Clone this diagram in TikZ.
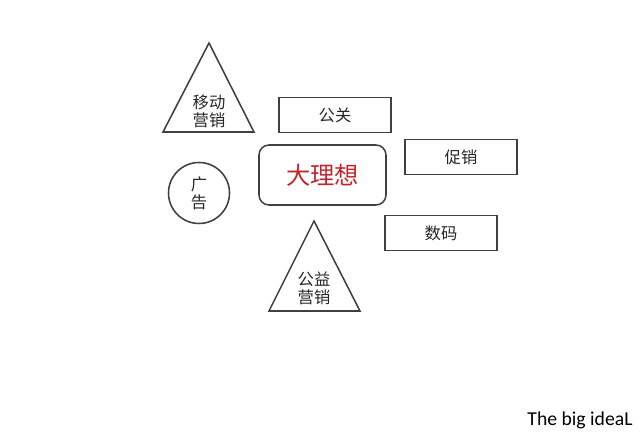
\documentclass[tikz,border=0pt]{standalone}
\usepackage{fontspec}
\setmainfont{Carlito}
\newfontfamily\cjk{Noto Sans CJK SC}
\usetikzlibrary{positioning}

\begin{document}
\begin{tikzpicture}[line width=1.1pt, shapeline/.style = {draw=black!75},
	label/.style = {font=\cjk\fontsize{11.6}{12.8}\selectfont, text=black!85, align=center},
	box/.style = {shapeline, rectangle, minimum width=2.8cm, minimum height=0.88cm, label}]

	\useasboundingbox (0cm, 0cm) rectangle (16cm, 11cm);

	% triangles
	\coordinate (mtop) at (5.225cm, 9.925cm);
	\coordinate (mleft) at (4.075cm, 7.70cm);
	\coordinate (mright) at (6.350cm, 7.70cm);
	\draw[shapeline] (mtop) -- (mleft) -- (mright) -- cycle;
	\node (mobile) [label] at (5.225cm, 8.225cm) {移动\\营销};

	\coordinate (ptop) at (7.850cm, 5.475cm);
	\coordinate (pleft) at (6.725cm, 3.225cm);
	\coordinate (pright) at (9.000cm, 3.225cm);
	\draw[shapeline] (ptop) -- (pleft) -- (pright) -- cycle;
	\node (public) [label] at (7.85cm, 3.80cm) {公益\\营销};

	% center
	\node (idea) [shapeline, rounded corners=0.25cm, minimum width=3.175cm, minimum height=1.5cm,
		font=\cjk\fontsize{17.3}{20}\selectfont, text={rgb,255:red,192;green,39;blue,45}]
		at (8.0625cm, 6.625cm) {大理想};

	\node (ad) [shapeline, circle, minimum size=1.525cm, inner sep=0pt, label] at (4.975cm, 6.175cm) {广\\告};

	% boxes
	\node (pr) [box] at (8.375cm, 8.125cm) {公关};
	\node (promo) [box] at (11.525cm, 7.075cm) {促销};
	\node (digital) [box] at (11.025cm, 5.175cm) {数码};

	\node (brand) [font=\fontsize{14}{16}\selectfont] at (14.5cm, 0.5cm) {The big ideaL};
\end{tikzpicture}
\end{document}
